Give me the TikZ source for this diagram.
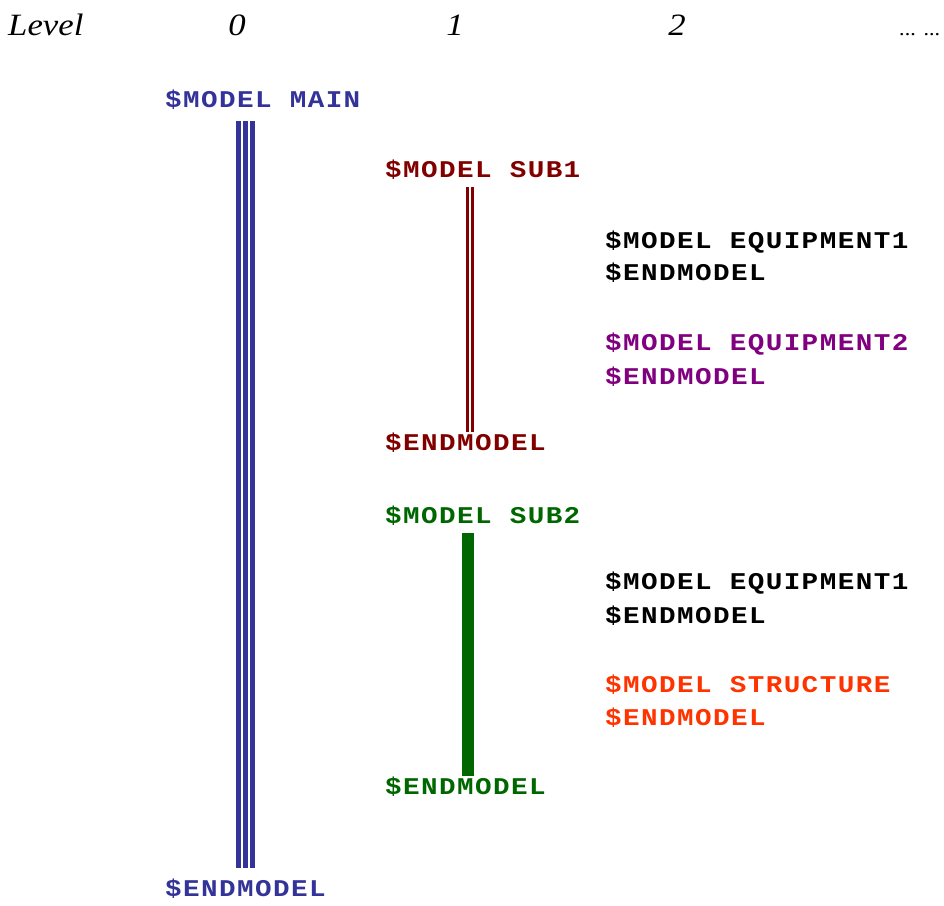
\documentclass[tikz,border=0pt]{standalone}
\usepackage{fontspec}
\setmainfont{Liberation Serif}
\newfontfamily\codefont[LetterSpace=6,FakeStretch=1.15]{Liberation Mono Bold}
\newfontfamily\hdrfont[FakeStretch=1.12]{Liberation Serif Italic}
\definecolor{cblue}{RGB}{51,51,153}
\definecolor{cred}{RGB}{128,0,0}
\definecolor{cgreen}{RGB}{0,102,0}
\definecolor{cpurple}{RGB}{128,0,128}
\definecolor{corange}{RGB}{255,51,0}
\begin{document}
\begin{tikzpicture}[x=1pt,y=-1pt,
  code/.style={anchor=base west,inner sep=0pt,font=\codefont\fontsize{24}{24}\selectfont},
  hdr/.style={anchor=base,inner sep=0pt,font=\hdrfont\fontsize{31}{31}\selectfont},
  bar/.style={line cap=butt}]
\useasboundingbox (0,0) rectangle (944,905);
% header
\node[hdr,anchor=base west] (lev) at (8,35) {Level};
\node[hdr] (l0) at (237,35) {0};
\node[hdr] (l1) at (455,35) {1};
\node[hdr] (l2) at (677,35) {2};
\node[hdr,anchor=base east] (ldots) at (941,35) {\fontsize{20}{20}\selectfont ... ...};
% level 0
\node[code,text=cblue] (main) at (165,107) {\$MODEL MAIN};
\node[code,text=cblue] (mainend) at (165,896) {\$ENDMODEL};
\coordinate (mt) at (245.5,121);
\coordinate (mb) at (245.5,868);
\foreach \dx in {-7,0,7}
  \draw[bar,cblue,line width=4.5pt] ([xshift=\dx pt]mt) -- ([xshift=\dx pt]mb);
% level 1: sub1
\node[code,text=cred] (sub1) at (385,177) {\$MODEL SUB1};
\node[code,text=cred] (sub1end) at (385,450) {\$ENDMODEL};
\coordinate (s1t) at (469.75,187);
\coordinate (s1b) at (469.75,432);
\foreach \dx in {-2.5,2.5}
  \draw[bar,cred,line width=2.5pt] ([xshift=\dx pt]s1t) -- ([xshift=\dx pt]s1b);
% level 2 in sub1
\node[code,text=black] (eq1a) at (605,248) {\$MODEL EQUIPMENT1};
\node[code,text=black] (eq1aend) at (605,280) {\$ENDMODEL};
\node[code,text=cpurple] (eq2) at (605,350) {\$MODEL EQUIPMENT2};
\node[code,text=cpurple] (eq2end) at (605,384) {\$ENDMODEL};
% level 1: sub2
\node[code,text=cgreen] (sub2) at (385,523) {\$MODEL SUB2};
\node[code,text=cgreen] (sub2end) at (385,794) {\$ENDMODEL};
\coordinate (s2t) at (468,533);
\coordinate (s2b) at (468,776);
\draw[bar,cgreen,line width=11.5pt] (s2t) -- (s2b);
% level 2 in sub2
\node[code,text=black] (eq1b) at (605,589) {\$MODEL EQUIPMENT1};
\node[code,text=black] (eq1bend) at (605,623) {\$ENDMODEL};
\node[code,text=corange] (str) at (605,692) {\$MODEL STRUCTURE};
\node[code,text=corange] (strend) at (605,725) {\$ENDMODEL};
\end{tikzpicture}
\end{document}
